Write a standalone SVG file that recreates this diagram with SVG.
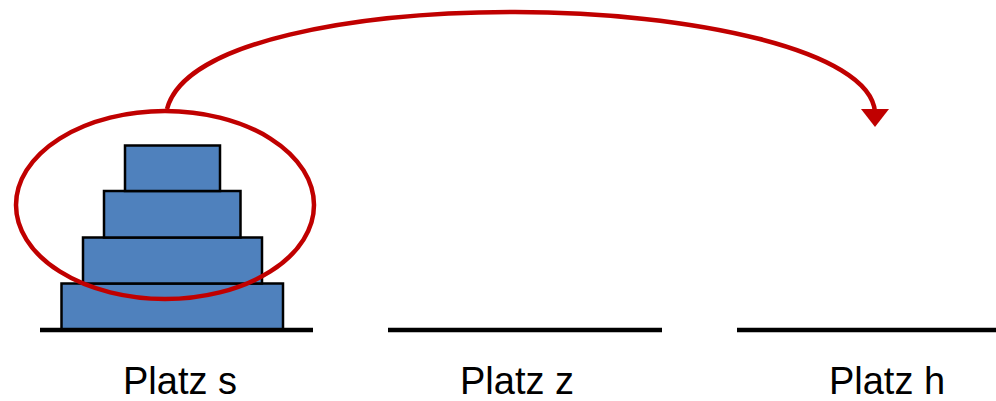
<svg xmlns="http://www.w3.org/2000/svg" width="996" height="401" viewBox="0 0 996 401">
<style>
.disk{fill:#4f81bd;stroke:#000;stroke-width:2.5}
.base{stroke:#000;stroke-width:4.5;fill:none}
.red{stroke:#c00000;stroke-width:4.5;fill:none}
.lbl{font-family:"Liberation Sans",Arial,sans-serif;font-size:38px;fill:#000;text-anchor:middle}
</style>
<g id="platz-s">
<line class="base" x1="40" y1="330" x2="313" y2="330"/>
<rect id="disk4" class="disk" x="61.5" y="283.5" width="221.5" height="45.5"/>
<rect id="disk3" class="disk" x="83" y="237.5" width="179" height="46"/>
<rect id="disk2" class="disk" x="104" y="191" width="136.5" height="46.5"/>
<rect id="disk1" class="disk" x="125" y="145.5" width="95" height="45.5"/>
<text class="lbl" x="180" y="394">Platz s</text>
</g>
<g id="platz-z">
<line class="base" x1="388" y1="330" x2="662" y2="330"/>
<text class="lbl" x="517" y="394">Platz z</text>
</g>
<g id="platz-h">
<line class="base" x1="737" y1="330" x2="996" y2="330"/>
<text class="lbl" x="887" y="394">Platz h</text>
</g>
<g id="connectors">
<ellipse class="red" cx="165" cy="205" rx="149" ry="94"/>
<path class="red" d="M167,109 C185,40 360,12 515,12 C690,12 870,50 875,112"/>
<polygon points="861,109 889,109 875,127" fill="#c00000"/>
</g>
</svg>
